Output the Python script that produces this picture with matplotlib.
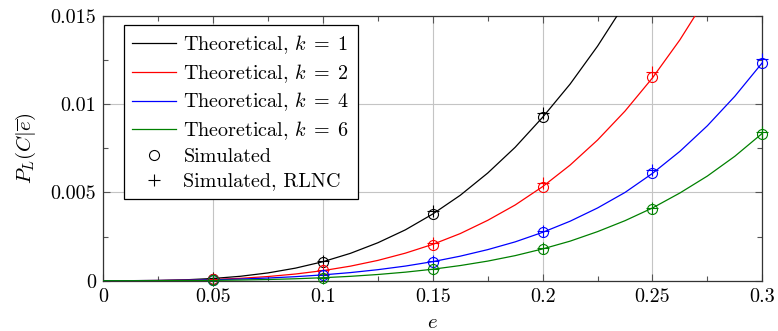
import matplotlib
matplotlib.use("Agg")
import matplotlib.pyplot as plt
from matplotlib.ticker import MultipleLocator, FixedLocator, FixedFormatter

plt.rcParams['font.family'] = 'serif'
plt.rcParams['font.serif'] = ['cmr10', 'DejaVu Serif']
plt.rcParams['mathtext.fontset'] = 'cm'
plt.rcParams['axes.formatter.use_mathtext'] = True

# ---- data ----
e_theory = [0.0, 0.0125, 0.025, 0.0375, 0.05, 0.0625, 0.075, 0.0875, 0.1, 0.1125,
            0.125, 0.1375, 0.15, 0.1625, 0.175, 0.1875, 0.2, 0.2125, 0.225, 0.2375,
            0.25, 0.2625, 0.275, 0.2875, 0.3]
theory_k1 = [0.0, 0.0000017, 0.0000146, 0.000051, 0.000125, 0.000251, 0.000441, 0.000712,
             0.001076, 0.00155, 0.00215, 0.00288, 0.00378, 0.00484, 0.00610, 0.00756,
             0.00926, 0.01114, 0.01329, 0.01571, 0.0183, 0.0212, 0.0244, 0.0279, 0.0317]
theory_k2 = [0.0, 0.0000012, 0.0000091, 0.0000299, 0.0000697, 0.000136, 0.000236, 0.000378,
             0.00057, 0.000824, 0.00115, 0.00156, 0.00206, 0.00267, 0.00342, 0.00429,
             0.00533, 0.00655, 0.00797, 0.00961, 0.01149, 0.01365, 0.01612, 0.0189, 0.0220]
theory_k4 = [0.0, 0.0000021, 0.0000102, 0.0000266, 0.0000537, 0.000094, 0.000151, 0.000228,
             0.000329, 0.000459, 0.000624, 0.000828, 0.00108, 0.00139, 0.00176, 0.00220,
             0.00274, 0.00337, 0.00412, 0.00500, 0.00608, 0.00733, 0.00878, 0.01045, 0.01235]
theory_k6 = [0.0, 0.0000003, 0.0000024, 0.0000079, 0.0000189, 0.0000376, 0.0000667, 0.000109,
             0.000168, 0.000247, 0.000351, 0.000483, 0.00065, 0.000858, 0.00111, 0.00142,
             0.00180, 0.00224, 0.00278, 0.00340, 0.00412, 0.00497, 0.00593, 0.00705, 0.00835]

e_sim = [0.05, 0.1, 0.15, 0.2, 0.25, 0.3]
sim_k1 = [0.00012, 0.00108, 0.00378, 0.00927, None, None]
sim_k2 = [0.00008, 0.00060, 0.00205, 0.00533, 0.01156, None]
sim_k4 = [0.00005, 0.00030, 0.00108, 0.00274, 0.00612, 0.01236]
sim_k6 = [0.00002, 0.00017, 0.00065, 0.00180, 0.00408, 0.00833]

rlnc_k1 = [0.00013, 0.00112, 0.00395, 0.00950, None, None]
rlnc_k2 = [0.00008, 0.00062, 0.00214, 0.00552, 0.01184, None]
rlnc_k4 = [0.00005, 0.00032, 0.00112, 0.00282, 0.00625, 0.01255]
rlnc_k6 = [0.00002, 0.00018, 0.00068, 0.00184, 0.00414, 0.00840]

k_labels = ['1', '2', '4', '6']
colors = ['black', 'red', 'blue', 'green']

x_ticks = [0, 0.05, 0.1, 0.15, 0.2, 0.25, 0.3]
x_tick_labels = ['0', '0.05', '0.1', '0.15', '0.2', '0.25', '0.3']
y_ticks = [0, 0.005, 0.01, 0.015]
y_tick_labels = ['0', '0.005', '0.01', '0.015']

# ---- plot ----
fig = plt.figure(figsize=(7.78, 3.31), dpi=100)
ax = fig.add_axes([0.1328, 0.152, 0.8470, 0.7997])

theories = [theory_k1, theory_k2, theory_k4, theory_k6]
sims = [sim_k1, sim_k2, sim_k4, sim_k6]
rlncs = [rlnc_k1, rlnc_k2, rlnc_k4, rlnc_k6]

for th, k, c in zip(theories, k_labels, colors):
    ax.plot(e_theory, th, color=c, lw=0.9, label=r'Theoretical, $k\;=\;%s$' % k, zorder=3)

def pts(vals):
    xs = [x for x, v in zip(e_sim, vals) if v is not None]
    ys = [v for v in vals if v is not None]
    return xs, ys

for s, r, c in zip(sims, rlncs, colors):
    xs, ys = pts(s)
    ax.plot(xs, ys, ls='none', marker='o', ms=7.2, mfc='none', mec=c, mew=0.8, zorder=4, clip_on=False)
    xs, ys = pts(r)
    ax.plot(xs, ys, ls='none', marker='+', ms=8, mec=c, mew=0.8, zorder=4, clip_on=False)

# legend proxies for markers
ax.plot([], [], ls='none', marker='o', ms=7.2, mfc='none', mec='black', mew=0.8, label='Simulated')
ax.plot([], [], ls='none', marker='+', ms=8, mec='black', mew=0.8, label='Simulated, RLNC')

ax.set_xlim(0, 0.3)
ax.set_ylim(0, 0.015)
ax.xaxis.set_major_locator(FixedLocator(x_ticks))
ax.xaxis.set_major_formatter(FixedFormatter(x_tick_labels))
ax.yaxis.set_major_locator(FixedLocator(y_ticks))
ax.yaxis.set_major_formatter(FixedFormatter(y_tick_labels))
ax.xaxis.set_minor_locator(MultipleLocator(0.025))
ax.yaxis.set_minor_locator(MultipleLocator(0.0025))

ax.grid(True, which='major', color='#c4c4c4', lw=0.8, zorder=0)
ax.set_axisbelow(True)
ax.tick_params(which='both', direction='in', top=True, right=True, color='#555555',
               labelsize=14.5, width=0.8)
ax.tick_params(which='major', length=5)
ax.tick_params(which='minor', length=3.6)
ax.tick_params(axis='x', pad=5)
ax.tick_params(axis='y', pad=5)
for sp in ax.spines.values():
    sp.set_color('#333333')
    sp.set_linewidth(0.9)

ax.set_xlabel('$e$', fontsize=15, labelpad=6)
ax.set_ylabel(r'$P_L(C|\overline{e})$', fontsize=15, labelpad=9)

leg = ax.legend(loc='upper left', bbox_to_anchor=(0.0314, 0.966), borderaxespad=0,
                fontsize=14.5, frameon=True, fancybox=False, framealpha=1,
                edgecolor='black', handlelength=2.2, handletextpad=0.35,
                labelspacing=0.3, borderpad=0.4)
leg.get_frame().set_linewidth(0.9)

fig.savefig('out.png', dpi=100)
